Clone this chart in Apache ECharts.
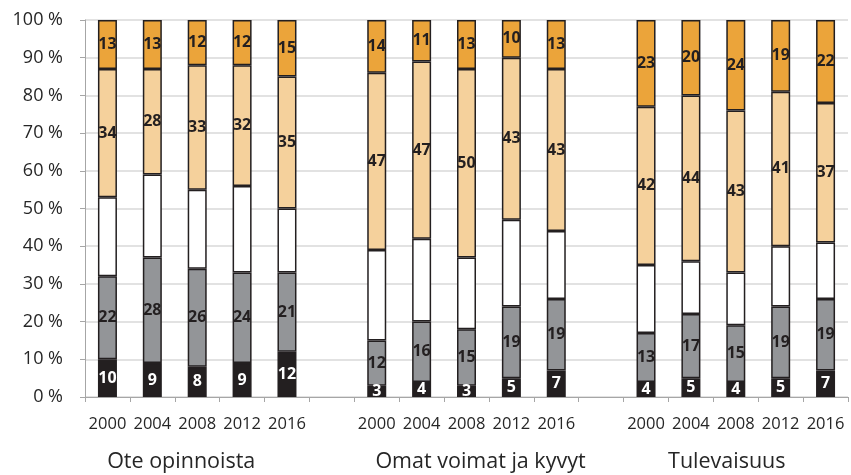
<!DOCTYPE html>
<html>
<head>
<meta charset="utf-8">
<script src="https://cdn.jsdelivr.net/npm/echarts@6/dist/echarts.min.js"></script>
<style>
  html, body { margin: 0; padding: 0; background: #fff; }
  #main { width: 851px; height: 475px; }
</style>
</head>
<body>
<div id="main"></div>
<script>
// one empty slot between the three groups
var years = ['2000', '2004', '2008', '2012', '2016', '',
             '2000', '2004', '2008', '2012', '2016', '',
             '2000', '2004', '2008', '2012', '2016'];
var groupNames = ['Ote opinnoista', 'Omat voimat ja kyvyt', 'Tulevaisuus'];
var yTicks = [0, 10, 20, 30, 40, 50, 60, 70, 80, 90, 100];

// segments bottom -> top
var blackVals  = [10, 9, 8, 9, 12, '-', 3, 4, 3, 5, 7, '-', 4, 5, 4, 5, 7];
var grayVals   = [22, 28, 26, 24, 21, '-', 12, 16, 15, 19, 19, '-', 13, 17, 15, 19, 19];
var whiteVals  = [21, 22, 21, 23, 17, '-', 24, 22, 19, 23, 18, '-', 18, 14, 14, 16, 15];
var lightVals  = [34, 28, 33, 32, 35, '-', 47, 47, 50, 43, 43, '-', 42, 44, 43, 41, 37];
var orangeVals = [13, 13, 12, 12, 15, '-', 14, 11, 13, 10, 13, '-', 23, 20, 24, 19, 22];

var font = '"Open Sans", "Liberation Sans", sans-serif';

function seg(name, vals, color, labelColor) {
    return {
        name: name,
        type: 'bar',
        stack: 'all',
        barWidth: 19,
        data: vals,
        itemStyle: { color: color, borderColor: '#231f20', borderWidth: 1.5 },
        label: {
            show: labelColor != null,
            position: 'inside',
            color: labelColor,
            fontFamily: font,
            fontWeight: 'bold',
            fontSize: 16
        }
    };
}

// group name sits under the middle year of each group (text boxes are a bit off-centre)
var groupLabels = years.map(function (y, i) {
    if (i === 2) return '{g0|' + groupNames[0] + '}';
    if (i === 8) return '{g1|' + groupNames[1] + '}';
    if (i === 14) return '{g2|' + groupNames[2] + '}';
    return '';
});

var myChart = echarts.init(document.getElementById('main'));
var option = {
    animation: false,
    grid: { left: 85, right: 3, top: 20, bottom: 78 },
    xAxis: [
        {
            type: 'category',
            data: years,
            axisLine: { lineStyle: { color: '#a6a6a6', width: 1 } },
            axisTick: { show: true, length: 5, lineStyle: { color: '#a6a6a6' } },
            axisLabel: { interval: 0, color: '#262626', fontFamily: font, fontSize: 16.5, margin: 19 }
        },
        {
            type: 'category',
            data: groupLabels,
            position: 'bottom',
            offset: 46,
            axisLine: { show: false },
            axisTick: { show: false },
            axisLabel: {
                interval: 0,
                color: '#262626',
                fontFamily: font,
                fontSize: 21,
                rich: {
                    g0: { fontFamily: font, fontSize: 21.5, color: '#262626', padding: [0, 32, 0, 0] },
                    g1: { fontFamily: font, fontSize: 21.5, color: '#262626', padding: [0, 0, 0, 28] },
                    g2: { fontFamily: font, fontSize: 21.5, color: '#262626', padding: [0, 18, 0, 0] }
                }
            }
        }
    ],
    yAxis: {
        type: 'value',
        min: 0,
        max: 100,
        interval: 10,
        axisLine: { show: true, lineStyle: { color: '#a6a6a6' } },
        axisTick: { show: true, length: 5, lineStyle: { color: '#a6a6a6' } },
        splitLine: { lineStyle: { color: '#d9d9d9', width: 1.5 } },
        axisLabel: {
            color: '#262626',
            fontFamily: font,
            fontSize: 18,
            margin: 22,
            formatter: function (v) { return yTicks.indexOf(v) >= 0 ? v + ' %' : ''; }
        }
    },
    series: [
        seg('black', blackVals, '#231f20', '#ffffff'),
        seg('gray', grayVals, '#939598', '#231f20'),
        seg('white', whiteVals, '#ffffff', null),
        seg('light', lightVals, '#f5d19c', '#231f20'),
        seg('orange', orangeVals, '#eba43a', '#231f20')
    ]
};
myChart.setOption(option);
</script>
</body>
</html>
